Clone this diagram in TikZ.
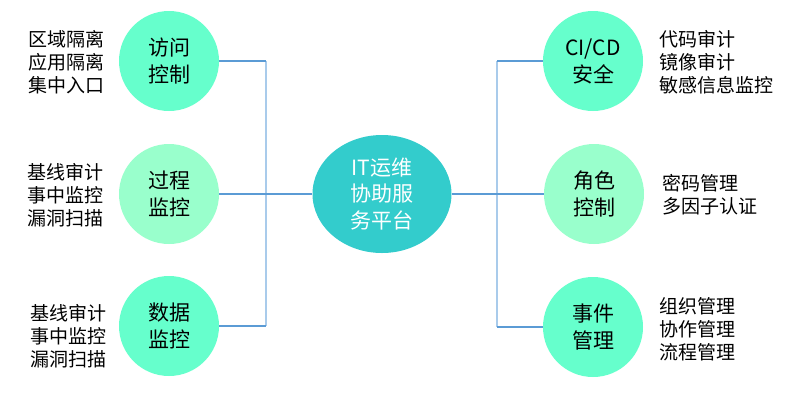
\documentclass[tikz,border=0pt]{standalone}
\usepackage{fontspec}
\usetikzlibrary{shapes.geometric}
\newfontfamily\cjk{Noto Sans CJK SC}
\definecolor{mintA}{HTML}{66FFCC}
\definecolor{mintB}{HTML}{99FFCC}
\definecolor{hubC}{HTML}{33CCCC}
\definecolor{hline}{HTML}{5B9BD5}
\definecolor{vline}{HTML}{A9CBEB}
\tikzset{
  topic/.style={circle,minimum size=100pt,inner sep=0pt,align=center,draw=none,
    font=\cjk\fontsize{21}{27}\selectfont,text=black},
  hub/.style={ellipse,minimum width=139pt,minimum height=118pt,inner sep=0pt,align=center,
    fill=hubC,text=white,font=\cjk\fontsize{21}{26.5}\selectfont},
  items/.style={inner sep=0pt,align=left,font=\cjk\fontsize{19}{23}\selectfont,text=black},
  hconn/.style={draw=hline,line width=1.3pt},
  vconn/.style={draw=vline,line width=2pt}
}
\begin{document}
\begin{tikzpicture}[x=1pt,y=-1pt]
\useasboundingbox (0,0) rectangle (792,402);
\fill[white] (0,0) rectangle (792,402);
% coordinates for the two vertical bus lines
\coordinate (lx) at (266,0);
\coordinate (rx) at (497,0);
% circles
\node[topic,fill=mintA] (a1) at (169,61) {访问\\控制};
\node[topic,fill=mintB] (a2) at (169,194) {过程\\监控};
\node[topic,fill=mintA] (a3) at (169,326) {数据\\监控};
\node[topic,fill=mintA] (b1) at (593,61) {CI/CD\\安全};
\node[topic,fill=mintB] (b2) at (594,194) {角色\\控制};
\node[topic,fill=mintA] (b3) at (593,327) {事件\\管理};
\node[hub] (c) at (382,194) {IT运维\\协助服\\务平台};
% connectors
\coordinate (l1) at (a1 -| lx);
\coordinate (l3) at (a3 -| lx);
\coordinate (lc) at (c -| lx);
\coordinate (r1) at (b1 -| rx);
\coordinate (r3) at (b3 -| rx);
\coordinate (rc) at (c -| rx);
\draw[vconn] (l1) -- (l3);
\draw[vconn] (r1) -- (r3);
\draw[hconn] (a1) -- (l1);
\draw[hconn] (a2) -- (a2 -| lx);
\draw[hconn] (a3) -- (l3);
\draw[hconn] (c) -- (lc);
\draw[hconn] (c) -- (rc);
\draw[hconn] (b1) -- (r1);
\draw[hconn] (b2) -- (b2 -| rx);
\draw[hconn] (b3) -- (r3);
% item lists
\node[items,anchor=west] (t1) at (28,62) {区域隔离\\应用隔离\\集中入口};
\node[items,anchor=west] (t2) at (27,195) {基线审计\\事中监控\\漏洞扫描};
\node[items,anchor=west] (t3) at (30,336) {基线审计\\事中监控\\漏洞扫描};
\node[items,anchor=west] (u1) at (659,62) {代码审计\\镜像审计\\敏感信息监控};
\node[items,anchor=west] (u2) at (662,195) {密码管理\\多因子认证};
\node[items,anchor=west] (u3) at (659,329) {组织管理\\协作管理\\流程管理};
\end{tikzpicture}
\end{document}
